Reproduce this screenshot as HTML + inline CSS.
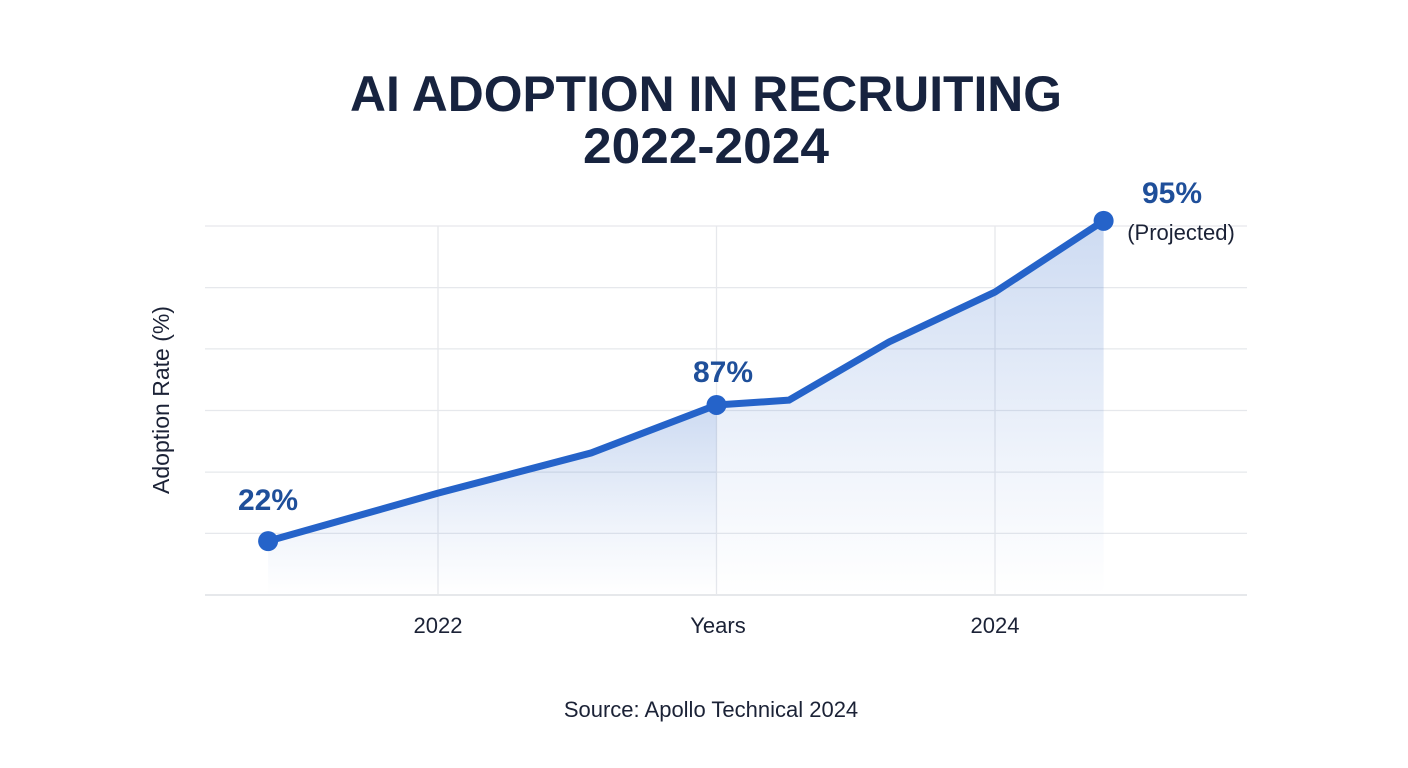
<!DOCTYPE html>
<html><head><meta charset="utf-8"><style>
html,body{margin:0;padding:0;background:#fff;}
svg{display:block;font-family:"Liberation Sans",sans-serif;}
</style></head><body>
<svg id="chart" width="1408" height="768" viewBox="0 0 1408 768">
<defs>
<linearGradient id="g" x1="0" y1="0" x2="0" y2="1">
<stop offset="0" stop-color="#2f68c8" stop-opacity="0.24"/>
<stop offset="0.7" stop-color="#2f68c8" stop-opacity="0.06"/>
<stop offset="1" stop-color="#2f68c8" stop-opacity="0.0"/>
</linearGradient>
</defs>
<text x="706" y="111" text-anchor="middle" font-size="50" font-weight="bold" fill="#17233f" textLength="712" lengthAdjust="spacingAndGlyphs">AI ADOPTION IN RECRUITING</text>
<text x="706" y="163" text-anchor="middle" font-size="50" font-weight="bold" fill="#17233f" textLength="246" lengthAdjust="spacingAndGlyphs">2022-2024</text>
<g id="grid"></g>
<g id="area"></g>
<g id="line"></g>
<g id="marks"></g>
<text transform="translate(169,400) rotate(-90)" text-anchor="middle" font-size="23" fill="#1b2236">Adoption Rate (%)</text>
<text x="438" y="633" text-anchor="middle" font-size="22" fill="#1b2236">2022</text>
<text x="718" y="633" text-anchor="middle" font-size="22" fill="#1b2236">Years</text>
<text x="995" y="633" text-anchor="middle" font-size="22" fill="#1b2236">2024</text>
<text x="268" y="510" text-anchor="middle" font-size="30" font-weight="bold" fill="#1f4f9a">22%</text>
<text x="723" y="382" text-anchor="middle" font-size="30" font-weight="bold" fill="#1f4f9a">87%</text>
<text x="1172" y="203" text-anchor="middle" font-size="30" font-weight="bold" fill="#1f4f9a">95%</text>
<text x="1181" y="240" text-anchor="middle" font-size="22" fill="#1b2236">(Projected)</text>
<text x="711" y="717" text-anchor="middle" font-size="22" fill="#1b2236">Source: Apollo Technical 2024</text>
</svg>
<script>
const xYears = [2021.39, 2022.0, 2022.55, 2023.0, 2023.26, 2023.62, 2024.0, 2024.39];
const yValues = [14.6, 27.6, 38.5, 51.5, 52.8, 68.6, 82.1, 101.4];
const markerIdx = [0, 3, 7];
const gridTicks = [0, 16.7, 33.3, 50, 66.7, 83.3, 100];
const xGridYears = [2022, 2023, 2024];
const NS = "http://www.w3.org/2000/svg";
const X0 = 438, PXY = 278.5, Y0 = 595, PXV = 3.69;
const sx = y => X0 + (y - 2022) * PXY;
const sy = v => Y0 - v * PXV;
function mk(tag, attrs, parent) { const e = document.createElementNS(NS, tag); for (const k in attrs) e.setAttribute(k, attrs[k]); parent.appendChild(e); return e; }
const grid = document.getElementById('grid');
gridTicks.forEach((t, i) => {
  const l = mk('line', {x1: 205, x2: 1247, y1: sy(t), y2: sy(t), stroke: i === 0 ? '#d6d9df' : '#e6e8ec', 'stroke-width': 1.3}, grid);
  
  
});
xGridYears.forEach(y => {
  const l = mk('line', {x1: sx(y), x2: sx(y), y1: sy(100), y2: sy(0), stroke: '#e6e8ec', 'stroke-width': 1.3}, grid);
  
  
});
const area = document.getElementById('area');
function areaPoly(a, b) {
  let pts = [];
  for (let i = a; i <= b; i++) pts.push(sx(xYears[i]) + ',' + sy(yValues[i]));
  pts.push(sx(xYears[b]) + ',' + sy(0));
  pts.push(sx(xYears[a]) + ',' + sy(0));
  const p = mk('polygon', {points: pts.join(' '), fill: 'url(#g)'}, area);
  
  
}
areaPoly(0, 3); areaPoly(3, 7);
const line = mk('polyline', {points: xYears.map((x, i) => sx(x) + ',' + sy(yValues[i])).join(' '), fill: 'none', stroke: '#2563c9', 'stroke-width': 7, 'stroke-linejoin': 'round', 'stroke-linecap': 'round'}, document.getElementById('line'));


const marks = document.getElementById('marks');
markerIdx.forEach(i => {
  const c = mk('circle', {cx: sx(xYears[i]), cy: sy(yValues[i]), r: 10, fill: '#2563c9'}, marks);
  
  
});
</script>
</body></html>
